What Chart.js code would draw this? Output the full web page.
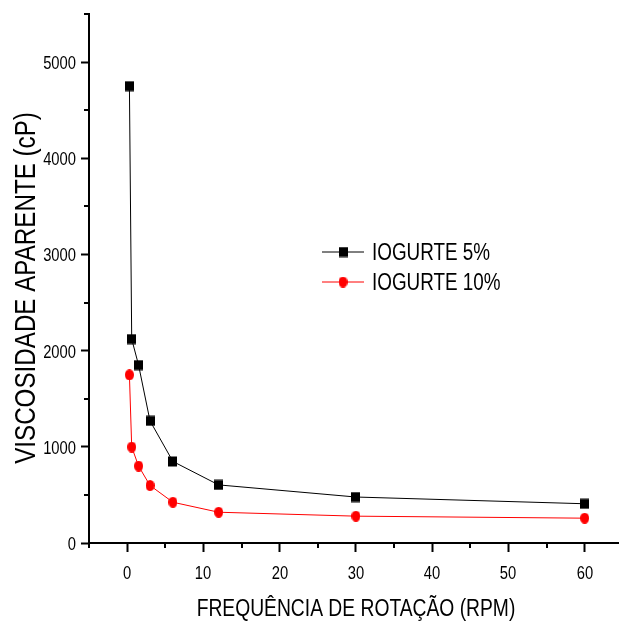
<!DOCTYPE html>
<html>
<head>
<meta charset="utf-8">
<script src="https://cdn.jsdelivr.net/npm/chart.js@4"></script>
<style>
  html, body { margin: 0; padding: 0; background: #fff; overflow: hidden; }
  canvas { display: block; }
</style>
</head>
<body>
<canvas id="viscChart" width="619" height="623"></canvas>
<script>
// Values
const rpm = [0.3, 0.6, 1.5, 3, 6, 12, 30, 60];
const iogurte5 = [4750, 2120, 1850, 1270, 848, 604, 478, 408];
const iogurte10 = [1748, 998, 800, 598, 424, 320, 279, 258];
const seriesLabels = ['IOGURTE 5%', 'IOGURTE 10%'];
const xTitle = 'FREQUÊNCIA DE ROTAÇÃO (RPM)';
const yTitle = 'VISCOSIDADE APARENTE (cP)';
const xLabelEvery = 10;
const yLabelEvery = 1000;

// no narrow font installed: squeeze Liberation Sans like Arial Narrow
const FONT = "'Liberation Sans', Arial, sans-serif";
const NARROW = 0.82;

function narrowText(ctx, text, x, y, size, align, rotate) {
  ctx.save();
  ctx.translate(x, y);
  if (rotate) ctx.rotate(-Math.PI / 2);
  ctx.scale(NARROW, 1);
  ctx.font = size + 'px ' + FONT;
  ctx.fillStyle = '#000';
  ctx.textAlign = align;
  ctx.textBaseline = 'alphabetic';
  ctx.fillText(text, 0, 0);
  ctx.restore();
}

// slightly tall markers, like the squeezed original
function marker(kind, color) {
  const c = document.createElement('canvas');
  c.width = 9; c.height = 11;
  const g = c.getContext('2d');
  g.fillStyle = color;
  if (kind === 'rect') {
    g.fillRect(0, 0.5, 9, 10);
  } else {
    g.beginPath();
    g.ellipse(4.5, 5.5, 4.5, 5.5, 0, 0, Math.PI * 2);
    g.fill();
  }
  return c;
}
const squareMark = marker('rect', '#000');
const circleMark = marker('circle', '#ff0000');

function toPoints(ys) {
  return rpm.map((x, i) => ({ x: x, y: ys[i] }));
}

// minor ticks, tick labels, titles and the legend inside the plot
const extras = {
  id: 'extras',
  afterDraw(chart) {
    const ctx = chart.ctx;
    const area = chart.chartArea;
    const xs = chart.scales.x, ys = chart.scales.y;
    ctx.save();
    ctx.strokeStyle = '#000';
    ctx.lineWidth = 2;
    xs.ticks.forEach(t => {
      const px = Math.round(xs.getPixelForValue(t.value));
      if (t.value % xLabelEvery === 0) {
        narrowText(ctx, String(t.value), px, area.bottom + 36, 18, 'center');
        return;
      }
      ctx.beginPath();
      ctx.moveTo(px, area.bottom);
      ctx.lineTo(px, area.bottom + 5);
      ctx.stroke();
    });
    ys.ticks.forEach(t => {
      const py = Math.round(ys.getPixelForValue(t.value));
      if (t.value % yLabelEvery === 0) {
        narrowText(ctx, String(t.value), area.left - 13, py + 6.5, 18, 'right');
        return;
      }
      ctx.beginPath();
      ctx.moveTo(area.left, py);
      ctx.lineTo(area.left - 5, py);
      ctx.stroke();
    });

    narrowText(ctx, xTitle, (area.left + area.right) / 2 + 2, 616, 23.5, 'center');
    narrowText(ctx, yTitle, 35, 288, 29.5, 'center', true);

    // legend
    const rows = [252, 282];
    chart.data.datasets.forEach((ds, i) => {
      const y = rows[i];
      ctx.strokeStyle = ds.borderColor;
      ctx.lineWidth = 1;
      ctx.beginPath();
      ctx.moveTo(322, y);
      ctx.lineTo(364, y);
      ctx.stroke();
      const img = ds.pointStyle;
      ctx.drawImage(img, 343 - img.width / 2, y - img.height / 2);
      narrowText(ctx, ds.label, 372, y + 8, 23, 'left');
    });
    ctx.restore();
  }
};

new Chart(document.getElementById('viscChart'), {
  type: 'line',
  data: {
    datasets: [{
      label: seriesLabels[0],
      data: toPoints(iogurte5),
      borderColor: '#000',
      borderWidth: 1,
      pointStyle: squareMark,
      tension: 0
    }, {
      label: seriesLabels[1],
      data: toPoints(iogurte10),
      borderColor: '#ff0000',
      borderWidth: 1,
      pointStyle: circleMark,
      tension: 0
    }]
  },
  options: {
    responsive: false,
    devicePixelRatio: 1,
    animation: false,
    layout: { autoPadding: false, padding: { top: 14, right: 0, left: 0, bottom: 0 } },
    plugins: { legend: { display: false }, tooltip: { enabled: false } },
    scales: {
      x: {
        type: 'linear',
        min: -5,
        max: 64.5,
        border: { color: '#000', width: 2 },
        grid: {
          drawOnChartArea: false,
          tickLength: 9,
          tickWidth: 2,
          tickColor: c => (c.tick && c.tick.value % xLabelEvery === 0) ? '#000' : 'rgba(0,0,0,0)'
        },
        ticks: { display: false, stepSize: 5, includeBounds: false, autoSkip: false },
        afterFit: s => { s.height = 80; }
      },
      y: {
        type: 'linear',
        min: 0,
        max: 5500,
        border: { color: '#000', width: 2 },
        grid: {
          drawOnChartArea: false,
          tickLength: 8,
          tickWidth: 2,
          tickColor: c => (c.tick && c.tick.value % yLabelEvery === 0) ? '#000' : 'rgba(0,0,0,0)'
        },
        ticks: { display: false, stepSize: 500, includeBounds: false, autoSkip: false },
        afterFit: s => { s.width = 89; }
      }
    }
  },
  plugins: [extras]
});
</script>
</body>
</html>
